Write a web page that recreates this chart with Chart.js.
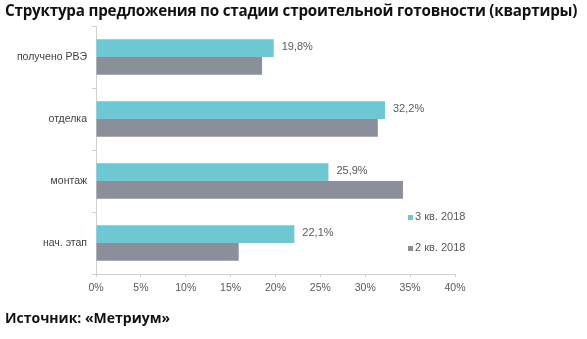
<!DOCTYPE html>
<html><head><meta charset="utf-8">
<script src="https://cdn.jsdelivr.net/npm/chart.js@4/dist/chart.umd.min.js"></script>
<style>
html,body{margin:0;padding:0;background:#fff;}
#wrap{position:relative;width:587px;height:339px;overflow:hidden;}
#title{position:absolute;left:5px;top:0px;font-family:"Open Sans",sans-serif;font-weight:bold;font-size:15.2px;color:#111;white-space:nowrap;letter-spacing:-0.2px}
#src{position:absolute;left:5px;top:308px;font-family:"Open Sans",sans-serif;font-weight:bold;font-size:14px;color:#111;white-space:nowrap}
canvas{position:absolute;left:0;top:0;}
</style></head>
<body><div id="wrap">
<canvas id="c" width="587" height="339"></canvas>
<div id="title">Структура предложения по стадии строительной готовности (квартиры)</div>
<div id="src">Источник: «Метриум»</div>
</div>
<script>
const categories = ["получено РВЭ", "отделка", "монтаж", "нач. этап"];
const seriesNames = ["3 кв. 2018", "2 кв. 2018"];
const q3 = [19.8, 32.2, 25.9, 22.1];
const q2 = [18.5, 31.4, 34.2, 15.9];
const xTicks = [0, 5, 10, 15, 20, 25, 30, 35, 40];
const colors = ["#6dc8d3", "#8a8f99"];

const labelPlugin = {
  id: 'lbl',
  afterDatasetsDraw(chart) {
    const ctx = chart.ctx;
    const meta = chart.getDatasetMeta(0);
    ctx.save();
    ctx.font = '11px "Liberation Sans", Arial, sans-serif';
    ctx.fillStyle = '#595959';
    ctx.textBaseline = 'middle';
    ctx.textAlign = 'left';
    meta.data.forEach((bar, i) => {
      ctx.fillText(q3[i].toFixed(1).replace('.', ',') + '%', bar.x + 8, bar.y - 1);
    });
    // legend
    const lx = 408, ly = [217, 248];
    seriesNames.forEach((n, i) => {
      ctx.fillStyle = colors[i];
      ctx.fillRect(lx, ly[i] - 2, 5, 5);
      ctx.fillStyle = '#595959';
      ctx.fillText(n, lx + 7, ly[i]);
    });
    ctx.restore();
  }
};

new Chart(document.getElementById('c'), {
  type: 'bar',
  data: {
    labels: categories,
    datasets: [
      { label: seriesNames[0], data: q3, backgroundColor: colors[0], categoryPercentage: 0.57, barPercentage: 1 },
      { label: seriesNames[1], data: q2, backgroundColor: colors[1], categoryPercentage: 0.57, barPercentage: 1 }
    ]
  },
  options: {
    indexAxis: 'y',
    responsive: false,
    animation: false,
    layout: { padding: { left: 0, right: 132, top: 26, bottom: 45 } },
    plugins: { legend: { display: false }, tooltip: { enabled: false } },
    scales: {
      x: {
        min: 0, max: 40,
        afterBuildTicks(s) { s.ticks = xTicks.map(v => ({ value: v })); },
        afterFit(s) { s.height = 20; },
        grid: { drawOnChartArea: false, drawTicks: true, tickLength: 3, color: '#d0d0d0' },
        border: { color: '#d0d0d0' },
        ticks: { callback: v => v + '%', color: '#595959', font: { family: '"Liberation Sans", Arial, sans-serif', size: 10.5 }, padding: 5, maxRotation: 0 }
      },
      y: {
        afterFit(s) { s.width = 96; },
        grid: { drawOnChartArea: false, drawTicks: true, tickLength: 4, color: '#d0d0d0', offset: true },
        border: { color: '#d0d0d0' },
        ticks: { color: '#404040', font: { family: '"Liberation Sans", Arial, sans-serif', size: 10.5 }, padding: 5 }
      }
    }
  },
  plugins: [labelPlugin]
});
</script>
</body></html>
